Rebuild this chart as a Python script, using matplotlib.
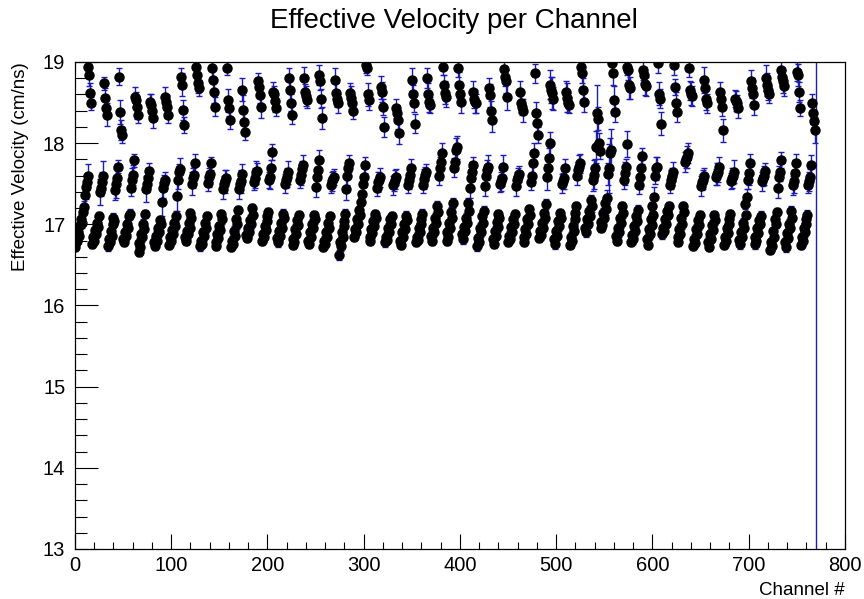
import numpy as np
import matplotlib
matplotlib.use("Agg")
import matplotlib.pyplot as plt
from matplotlib.ticker import MultipleLocator

plt.rcParams['font.family'] = ['Liberation Sans', 'DejaVu Sans']

# first two channels sit before the first 16-channel block
head_vel = [16.72, 16.78]
head_err = [0.05, 0.05]

# one row per block of 16 channels: 8 short bars, 4 medium, 4 long
vel = [
    [16.80, 16.90, 16.86, 16.99, 17.06, 17.02, 17.15, 17.21, 17.36, 17.46, 17.52, 17.60, 18.94, 18.84, 18.62, 18.49],
    [16.76, 16.84, 16.80, 16.93, 16.88, 17.02, 16.97, 17.10, 17.40, 17.45, 17.52, 17.60, 18.74, 18.56, 18.43, 18.35],
    [16.73, 16.82, 16.78, 16.92, 16.86, 17.00, 17.08, 17.04, 17.42, 17.50, 17.57, 17.71, 18.82, 18.38, 18.16, 18.10],
    [16.82, 16.78, 16.90, 16.86, 17.00, 16.95, 17.10, 17.13, 17.45, 17.55, 17.61, 17.79, 18.57, 18.53, 18.44, 18.35],
    [16.66, 16.77, 16.72, 16.88, 16.84, 17.00, 16.94, 17.13, 17.43, 17.50, 17.57, 17.66, 18.51, 18.47, 18.40, 18.31],
    [16.78, 16.73, 16.86, 16.80, 16.95, 16.90, 17.05, 17.00, 17.28, 17.45, 17.51, 17.55, 18.57, 18.51, 18.45, 18.35],
    [16.75, 16.84, 16.80, 16.93, 16.88, 17.02, 16.98, 17.10, 17.35, 17.55, 17.64, 17.68, 18.82, 18.72, 18.41, 18.22],
    [16.84, 16.80, 16.92, 16.88, 17.02, 16.96, 17.14, 17.08, 17.50, 17.57, 17.61, 17.75, 18.94, 18.84, 18.74, 18.68],
    [16.73, 16.80, 16.76, 16.90, 16.86, 17.02, 16.96, 17.10, 17.51, 17.58, 17.62, 17.75, 18.92, 18.78, 18.63, 18.45],
    [16.78, 16.73, 16.88, 16.83, 16.98, 16.93, 17.13, 17.06, 17.43, 17.50, 17.53, 17.57, 18.92, 18.53, 18.43, 18.29],
    [16.72, 16.80, 16.76, 16.92, 16.86, 17.06, 17.00, 17.18, 17.43, 17.50, 17.53, 17.62, 18.66, 18.41, 18.26, 18.14],
    [16.87, 16.83, 16.95, 16.90, 17.05, 17.00, 17.20, 17.12, 17.52, 17.57, 17.64, 17.66, 18.76, 18.69, 18.59, 18.45],
    [16.80, 16.88, 16.84, 16.98, 16.93, 17.10, 17.04, 17.15, 17.55, 17.58, 17.69, 17.89, 18.63, 18.61, 18.52, 18.43],
    [16.83, 16.78, 16.92, 16.86, 17.02, 16.96, 17.13, 17.08, 17.50, 17.55, 17.58, 17.64, 18.80, 18.66, 18.50, 18.35],
    [16.75, 16.82, 16.78, 16.94, 16.88, 17.05, 16.99, 17.12, 17.55, 17.61, 17.68, 17.73, 18.80, 18.63, 18.58, 18.53],
    [16.80, 16.76, 16.90, 16.84, 17.00, 16.95, 17.12, 17.06, 17.46, 17.58, 17.67, 17.79, 18.84, 18.76, 18.55, 18.31],
    [16.72, 16.80, 16.76, 16.90, 16.85, 17.02, 16.96, 17.10, 17.48, 17.53, 17.56, 17.58, 18.78, 18.62, 18.55, 18.49],
    [16.62, 16.78, 16.73, 16.90, 16.85, 17.04, 16.98, 17.13, 17.44, 17.60, 17.69, 17.75, 18.62, 18.56, 18.49, 18.40],
    [16.85, 16.94, 16.90, 17.06, 17.00, 17.18, 17.12, 17.27, 17.37, 17.50, 17.58, 17.73, 18.96, 18.92, 18.60, 18.53],
    [16.85, 16.80, 16.94, 16.89, 17.04, 16.98, 17.13, 17.08, 17.45, 17.52, 17.55, 17.58, 18.69, 18.63, 18.45, 18.20],
    [16.78, 16.85, 16.81, 16.96, 16.90, 17.06, 17.00, 17.10, 17.48, 17.51, 17.55, 17.58, 18.43, 18.37, 18.29, 18.13],
    [16.80, 16.75, 16.90, 16.84, 17.00, 16.94, 17.10, 17.05, 17.48, 17.55, 17.61, 17.69, 18.78, 18.60, 18.49, 18.24],
    [16.78, 16.85, 16.81, 16.96, 16.90, 17.06, 17.00, 17.13, 17.48, 17.56, 17.61, 17.64, 18.80, 18.60, 18.51, 18.47],
    [16.86, 16.80, 16.96, 16.90, 17.08, 17.02, 17.23, 17.15, 17.60, 17.69, 17.77, 17.88, 18.94, 18.72, 18.62, 18.57],
    [16.80, 16.90, 16.85, 17.02, 16.96, 17.15, 17.08, 17.26, 17.70, 17.77, 17.92, 17.95, 18.92, 18.72, 18.60, 18.51],
    [16.88, 16.82, 16.97, 16.92, 17.08, 17.02, 17.26, 17.16, 17.45, 17.57, 17.65, 17.73, 18.63, 18.55, 18.51, 18.49],
    [16.73, 16.83, 16.78, 16.96, 16.90, 17.10, 17.02, 17.17, 17.47, 17.60, 17.67, 17.71, 18.68, 18.59, 18.40, 18.28],
    [16.82, 16.76, 16.92, 16.86, 17.03, 16.97, 17.13, 17.08, 17.50, 17.53, 17.57, 17.71, 18.91, 18.82, 18.76, 18.57],
    [16.78, 16.86, 16.82, 16.97, 16.91, 17.07, 17.01, 17.13, 17.47, 17.55, 17.58, 17.62, 18.63, 18.49, 18.45, 18.40],
    [16.84, 16.78, 16.94, 16.88, 17.06, 17.00, 17.19, 17.12, 17.52, 17.60, 17.75, 17.88, 18.86, 18.37, 18.25, 18.10],
    [16.83, 16.92, 16.87, 17.02, 16.96, 17.14, 17.08, 17.25, 17.58, 17.69, 17.82, 18.00, 18.72, 18.66, 18.62, 18.55],
    [16.82, 16.76, 16.92, 16.86, 17.04, 16.98, 17.14, 17.08, 17.50, 17.53, 17.57, 17.69, 18.63, 18.56, 18.50, 18.47],
    [16.75, 16.85, 16.80, 16.98, 16.92, 17.14, 17.06, 17.23, 17.60, 17.67, 17.71, 17.75, 18.94, 18.86, 18.66, 18.51],
    [16.96, 16.90, 17.06, 17.00, 17.17, 17.10, 17.30, 17.23, 17.55, 17.61, 17.69, 17.95, 18.37, 18.30, 18.00, 17.90],
    [16.95, 17.03, 16.99, 17.14, 17.08, 17.26, 17.19, 17.32, 17.62, 17.69, 17.88, 17.92, 18.99, 18.86, 18.53, 18.38],
    [16.86, 16.80, 16.96, 16.90, 17.08, 17.02, 17.22, 17.14, 17.55, 17.63, 17.71, 17.99, 18.94, 18.90, 18.72, 18.68],
    [16.78, 16.87, 16.82, 16.98, 16.92, 17.10, 17.04, 17.18, 17.49, 17.58, 17.69, 17.84, 18.90, 18.84, 18.73, 18.70],
    [16.82, 16.75, 16.94, 16.88, 17.06, 16.99, 17.22, 17.12, 17.34, 17.60, 17.69, 17.71, 18.99, 18.61, 18.55, 18.24],
    [16.88, 16.96, 16.92, 17.07, 17.01, 17.16, 17.11, 17.22, 17.49, 17.55, 17.59, 17.65, 18.96, 18.69, 18.49, 18.38],
    [16.84, 16.78, 16.94, 16.88, 17.08, 17.00, 17.23, 17.15, 17.77, 17.80, 17.83, 17.88, 18.92, 18.65, 18.61, 18.58],
    [16.73, 16.82, 16.77, 16.94, 16.88, 17.05, 16.99, 17.12, 17.47, 17.52, 17.55, 17.60, 18.78, 18.68, 18.55, 18.49],
    [16.78, 16.72, 16.88, 16.82, 16.99, 16.93, 17.12, 17.05, 17.58, 17.62, 17.64, 17.71, 18.63, 18.55, 18.45, 18.16],
    [16.75, 16.84, 16.79, 16.95, 16.89, 17.06, 17.00, 17.13, 17.53, 17.57, 17.60, 17.65, 18.55, 18.52, 18.49, 18.43],
    [16.81, 16.76, 16.90, 16.85, 17.02, 16.96, 17.25, 17.12, 17.34, 17.55, 17.63, 17.75, 18.76, 18.68, 18.61, 18.47],
    [16.76, 16.84, 16.80, 16.95, 16.89, 17.05, 17.00, 17.10, 17.53, 17.57, 17.60, 17.66, 18.80, 18.72, 18.65, 18.60],
    [16.68, 16.78, 16.73, 16.92, 16.85, 17.07, 17.00, 17.15, 17.45, 17.58, 17.65, 17.79, 18.90, 18.82, 18.76, 18.70],
    [16.78, 16.72, 16.89, 16.83, 17.01, 16.95, 17.17, 17.08, 17.48, 17.53, 17.63, 17.75, 18.88, 18.84, 18.63, 18.43],
    [16.75, 16.84, 16.79, 16.96, 16.90, 17.06, 17.00, 17.12, 17.48, 17.53, 17.58, 17.73, 18.49, 18.37, 18.27, 18.16],
]

err = [
    [0.05, 0.05, 0.06, 0.05, 0.07, 0.06, 0.05, 0.08, 0.12, 0.15, 0.10, 0.14, 0.10, 0.14, 0.12, 0.08],
    [0.05, 0.06, 0.05, 0.06, 0.05, 0.07, 0.06, 0.05, 0.16, 0.10, 0.12, 0.18, 0.08, 0.12, 0.10, 0.14],
    [0.06, 0.05, 0.05, 0.07, 0.06, 0.05, 0.06, 0.06, 0.12, 0.18, 0.10, 0.08, 0.10, 0.15, 0.12, 0.10],
    [0.05, 0.05, 0.06, 0.06, 0.05, 0.07, 0.05, 0.06, 0.10, 0.14, 0.12, 0.08, 0.12, 0.10, 0.14, 0.10],
    [0.05, 0.06, 0.05, 0.05, 0.06, 0.06, 0.07, 0.05, 0.16, 0.10, 0.12, 0.10, 0.10, 0.14, 0.08, 0.12],
    [0.06, 0.05, 0.06, 0.05, 0.05, 0.06, 0.05, 0.07, 0.18, 0.12, 0.10, 0.10, 0.12, 0.10, 0.14, 0.10],
    [0.05, 0.05, 0.06, 0.05, 0.06, 0.05, 0.06, 0.06, 0.18, 0.12, 0.10, 0.14, 0.10, 0.14, 0.12, 0.10],
    [0.05, 0.06, 0.05, 0.06, 0.05, 0.06, 0.05, 0.05, 0.14, 0.12, 0.10, 0.12, 0.08, 0.10, 0.12, 0.10],
    [0.06, 0.05, 0.05, 0.05, 0.06, 0.05, 0.07, 0.05, 0.10, 0.12, 0.10, 0.08, 0.10, 0.12, 0.14, 0.12],
    [0.05, 0.05, 0.06, 0.05, 0.05, 0.06, 0.05, 0.06, 0.12, 0.10, 0.14, 0.10, 0.08, 0.14, 0.10, 0.12],
    [0.05, 0.06, 0.05, 0.06, 0.05, 0.05, 0.06, 0.05, 0.12, 0.10, 0.14, 0.12, 0.14, 0.18, 0.12, 0.10],
    [0.06, 0.05, 0.05, 0.05, 0.06, 0.06, 0.05, 0.06, 0.10, 0.12, 0.14, 0.10, 0.10, 0.12, 0.10, 0.14],
    [0.05, 0.05, 0.06, 0.05, 0.05, 0.06, 0.06, 0.05, 0.10, 0.14, 0.10, 0.10, 0.12, 0.10, 0.14, 0.10],
    [0.05, 0.06, 0.05, 0.06, 0.05, 0.05, 0.06, 0.05, 0.12, 0.10, 0.12, 0.14, 0.12, 0.14, 0.10, 0.12],
    [0.06, 0.05, 0.05, 0.06, 0.05, 0.06, 0.05, 0.05, 0.10, 0.12, 0.10, 0.12, 0.14, 0.10, 0.12, 0.10],
    [0.05, 0.05, 0.06, 0.05, 0.06, 0.05, 0.05, 0.06, 0.12, 0.10, 0.10, 0.12, 0.12, 0.10, 0.12, 0.14],
    [0.05, 0.06, 0.05, 0.05, 0.06, 0.05, 0.06, 0.05, 0.10, 0.12, 0.10, 0.10, 0.14, 0.12, 0.10, 0.12],
    [0.06, 0.05, 0.06, 0.05, 0.05, 0.06, 0.05, 0.06, 0.14, 0.12, 0.10, 0.10, 0.12, 0.14, 0.12, 0.10],
    [0.05, 0.05, 0.05, 0.06, 0.05, 0.05, 0.06, 0.05, 0.12, 0.10, 0.12, 0.10, 0.10, 0.08, 0.14, 0.12],
    [0.05, 0.06, 0.05, 0.05, 0.06, 0.05, 0.05, 0.06, 0.10, 0.12, 0.10, 0.12, 0.14, 0.12, 0.10, 0.12],
    [0.06, 0.05, 0.05, 0.06, 0.05, 0.06, 0.05, 0.05, 0.12, 0.10, 0.12, 0.10, 0.12, 0.10, 0.12, 0.14],
    [0.05, 0.05, 0.06, 0.05, 0.05, 0.05, 0.06, 0.05, 0.10, 0.12, 0.10, 0.12, 0.14, 0.12, 0.10, 0.12],
    [0.05, 0.06, 0.05, 0.06, 0.05, 0.06, 0.05, 0.06, 0.10, 0.12, 0.10, 0.10, 0.12, 0.14, 0.12, 0.10],
    [0.06, 0.05, 0.05, 0.05, 0.06, 0.05, 0.06, 0.05, 0.12, 0.14, 0.10, 0.12, 0.10, 0.12, 0.14, 0.12],
    [0.05, 0.05, 0.06, 0.05, 0.05, 0.06, 0.05, 0.06, 0.12, 0.10, 0.14, 0.14, 0.10, 0.16, 0.12, 0.14],
    [0.05, 0.06, 0.05, 0.05, 0.06, 0.05, 0.06, 0.05, 0.12, 0.14, 0.12, 0.10, 0.14, 0.12, 0.14, 0.12],
    [0.06, 0.05, 0.05, 0.06, 0.05, 0.05, 0.05, 0.06, 0.12, 0.10, 0.12, 0.14, 0.12, 0.14, 0.12, 0.14],
    [0.05, 0.05, 0.06, 0.05, 0.05, 0.06, 0.05, 0.05, 0.10, 0.12, 0.10, 0.14, 0.10, 0.12, 0.14, 0.16],
    [0.05, 0.06, 0.05, 0.05, 0.06, 0.05, 0.06, 0.05, 0.12, 0.10, 0.12, 0.10, 0.14, 0.12, 0.10, 0.14],
    [0.06, 0.05, 0.05, 0.06, 0.05, 0.05, 0.05, 0.06, 0.10, 0.12, 0.14, 0.12, 0.12, 0.14, 0.12, 0.10],
    [0.05, 0.05, 0.06, 0.05, 0.06, 0.05, 0.06, 0.06, 0.16, 0.14, 0.12, 0.14, 0.18, 0.16, 0.20, 0.14],
    [0.05, 0.06, 0.05, 0.05, 0.05, 0.06, 0.05, 0.05, 0.12, 0.10, 0.14, 0.12, 0.14, 0.18, 0.12, 0.10],
    [0.06, 0.05, 0.05, 0.06, 0.05, 0.05, 0.06, 0.05, 0.12, 0.10, 0.14, 0.12, 0.10, 0.12, 0.14, 0.12],
    [0.05, 0.06, 0.06, 0.05, 0.06, 0.07, 0.06, 0.08, 0.14, 0.18, 0.12, 0.20, 0.35, 0.14, 0.12, 0.10],
    [0.05, 0.05, 0.06, 0.06, 0.05, 0.06, 0.08, 0.10, 0.14, 0.30, 0.18, 0.25, 0.10, 0.14, 0.18, 0.12],
    [0.06, 0.05, 0.05, 0.06, 0.05, 0.06, 0.05, 0.06, 0.12, 0.14, 0.10, 0.16, 0.10, 0.12, 0.18, 0.14],
    [0.05, 0.05, 0.06, 0.05, 0.06, 0.05, 0.05, 0.06, 0.12, 0.14, 0.12, 0.10, 0.12, 0.10, 0.14, 0.12],
    [0.05, 0.06, 0.05, 0.06, 0.05, 0.05, 0.06, 0.05, 0.12, 0.10, 0.14, 0.12, 0.12, 0.14, 0.12, 0.14],
    [0.06, 0.05, 0.05, 0.05, 0.06, 0.05, 0.05, 0.06, 0.10, 0.12, 0.10, 0.12, 0.12, 0.10, 0.14, 0.12],
    [0.05, 0.05, 0.06, 0.05, 0.05, 0.06, 0.05, 0.05, 0.12, 0.10, 0.14, 0.12, 0.10, 0.12, 0.14, 0.12],
    [0.05, 0.06, 0.05, 0.06, 0.05, 0.05, 0.06, 0.05, 0.12, 0.10, 0.12, 0.10, 0.16, 0.12, 0.14, 0.12],
    [0.06, 0.05, 0.05, 0.05, 0.06, 0.05, 0.05, 0.06, 0.10, 0.14, 0.12, 0.12, 0.12, 0.10, 0.12, 0.14],
    [0.05, 0.05, 0.06, 0.05, 0.05, 0.06, 0.05, 0.05, 0.10, 0.12, 0.10, 0.14, 0.10, 0.12, 0.10, 0.12],
    [0.05, 0.06, 0.05, 0.05, 0.06, 0.05, 0.06, 0.05, 0.10, 0.12, 0.14, 0.12, 0.14, 0.12, 0.10, 0.12],
    [0.06, 0.05, 0.05, 0.06, 0.05, 0.05, 0.05, 0.06, 0.12, 0.10, 0.12, 0.10, 0.16, 0.14, 0.12, 0.10],
    [0.05, 0.05, 0.06, 0.05, 0.05, 0.06, 0.05, 0.05, 0.12, 0.14, 0.12, 0.10, 0.12, 0.10, 0.14, 0.12],
    [0.05, 0.06, 0.05, 0.05, 0.06, 0.05, 0.06, 0.05, 0.12, 0.14, 0.16, 0.12, 0.12, 0.14, 0.12, 0.10],
    [0.06, 0.05, 0.05, 0.06, 0.05, 0.05, 0.05, 0.06, 0.10, 0.12, 0.10, 0.12, 0.12, 0.14, 0.12, 0.16],
]

# the channel after the last block has no usable fit
tail_vel = [0.0]
tail_err = [20.0]

velocity = np.concatenate([head_vel, np.ravel(vel), tail_vel])
errors = np.concatenate([head_err, np.ravel(err), tail_err])
channel = np.arange(len(velocity))

fig = plt.figure(figsize=(8.64, 5.99), dpi=100)
ax = fig.add_axes([0.0868, 0.0835, 0.8912, 0.8130])

ax.errorbar(channel, velocity, yerr=errors, fmt='o', color='black', ms=6.5,
            ecolor='#1c1cb8', elinewidth=1.0, capsize=2.0, capthick=1.0)

ax.set_xlim(0, 800)
ax.set_ylim(13, 19)
ax.xaxis.set_major_locator(MultipleLocator(100))
ax.xaxis.set_minor_locator(MultipleLocator(20))
ax.yaxis.set_major_locator(MultipleLocator(1))
ax.yaxis.set_minor_locator(MultipleLocator(0.2))

ax.tick_params(axis='both', which='both', direction='in', top=False, right=False,
               labelsize=14.5, width=0.8, color='black')
ax.tick_params(axis='y', which='major', length=16.5, pad=7)
ax.tick_params(axis='y', which='minor', length=8.3)
ax.tick_params(axis='x', which='major', length=10.5, pad=5)
ax.tick_params(axis='x', which='minor', length=5.3)
for s in ax.spines.values():
    s.set_linewidth(0.9)

fig.text(454 / 864, 1 - 21 / 599, 'Effective Velocity per Channel',
         fontsize=20, ha='center', va='center')
ax.set_xlabel('Channel #', fontsize=13.5, loc='right', labelpad=5)
ax.set_ylabel('Effective Velocity (cm/ns)', fontsize=13.5, loc='top', labelpad=10)

fig.savefig('out.png', dpi=100)
